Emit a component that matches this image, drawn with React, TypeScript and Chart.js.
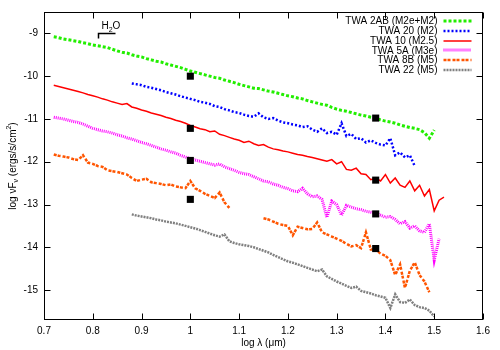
import React, { useEffect, useRef } from "react";
import { Chart, registerables } from "chart.js";

Chart.register(...registerables);

const FONT = '"Liberation Sans", Arial, Helvetica, sans-serif';

// shared wavelength grid (log lambda, micron)
const LOG_LAMBDA = [
  0.72, 0.73, 0.74, 0.75, 0.76, 0.77, 0.78, 0.79, 0.8, 0.81,
  0.82, 0.83, 0.84, 0.85, 0.86, 0.87, 0.88, 0.89, 0.9, 0.91,
  0.92, 0.93, 0.94, 0.95, 0.96, 0.97, 0.98, 0.99, 1.0, 1.01,
  1.02, 1.03, 1.04, 1.05, 1.06, 1.07, 1.08, 1.09, 1.1, 1.11,
  1.12, 1.13, 1.14, 1.15, 1.16, 1.17, 1.18, 1.19, 1.2, 1.21,
  1.22, 1.23, 1.24, 1.25, 1.26, 1.27, 1.28, 1.29, 1.3, 1.31,
  1.32, 1.33, 1.34, 1.35, 1.36, 1.37, 1.38, 1.39, 1.4, 1.41,
  1.42, 1.43, 1.44, 1.45, 1.46, 1.47, 1.48, 1.49, 1.5, 1.51,
  1.52,
];

const TWA2AB_START = 0.72;
const TWA2AB = [
  -9.08, -9.1, -9.13, -9.15, -9.17, -9.19, -9.22, -9.24, -9.27, -9.29,
  -9.31, -9.33, -9.37, -9.41, -9.44, -9.46, -9.5, -9.53, -9.55, -9.59,
  -9.62, -9.65, -9.67, -9.71, -9.74, -9.77, -9.8, -9.84, -9.88, -9.91,
  -9.94, -9.97, -10.0, -10.03, -10.05, -10.09, -10.12, -10.15, -10.19, -10.22,
  -10.25, -10.28, -10.29, -10.32, -10.35, -10.37, -10.4, -10.43, -10.46, -10.48,
  -10.51, -10.53, -10.57, -10.6, -10.63, -10.66, -10.68, -10.73, -10.77, -10.8,
  -10.82, -10.85, -10.88, -10.91, -10.93, -10.96, -10.98, -11.02, -11.05, -11.07,
  -11.1, -11.14, -11.17, -11.2, -11.22, -11.25, -11.32, -11.45, -11.26,
];

const TWA20_START = 0.88;
const TWA20 = [
  -10.17, -10.19, -10.21, -10.25, -10.27, -10.3, -10.33, -10.37, -10.4, -10.43,
  -10.47, -10.5, -10.53, -10.56, -10.6, -10.62, -10.65, -10.7, -10.72, -10.77,
  -10.8, -10.84, -10.86, -10.9, -10.93, -10.95, -10.87, -10.96, -11.0, -10.98,
  -11.04, -11.08, -11.1, -11.13, -11.15, -11.19, -11.17, -11.25, -11.3, -11.22,
  -11.33, -11.3, -11.37, -11.1, -11.4, -11.35, -11.47, -11.45, -11.55, -11.5,
  -11.56, -11.6, -11.62, -11.45, -11.85, -11.78, -11.9, -11.85, -12.1,
];

const TWA10_START = 0.72;
const TWA10 = [
  -10.21, -10.24, -10.27, -10.3, -10.33, -10.36, -10.39, -10.43, -10.46, -10.49,
  -10.53, -10.56, -10.6, -10.63, -10.66, -10.64, -10.72, -10.75, -10.79, -10.82,
  -10.86, -10.89, -10.92, -10.96, -10.99, -11.03, -11.06, -11.1, -11.15, -11.19,
  -11.23, -11.25, -11.3, -11.28, -11.36, -11.39, -11.43, -11.47, -11.5, -11.55,
  -11.52, -11.58, -11.62, -11.6, -11.66, -11.7, -11.72, -11.75, -11.77, -11.8,
  -11.83, -11.85, -11.88, -11.9, -11.93, -11.96, -11.99, -11.95, -12.05, -12.0,
  -12.18, -12.2, -12.15, -12.28, -12.3, -12.42, -12.38, -12.45, -12.3, -12.5,
  -12.38, -12.55, -12.6, -12.45, -12.68, -12.55, -12.8, -12.65, -13.15, -12.9,
  -12.83,
];

const TWA5A_START = 0.72;
const TWA5A = [
  -10.96, -10.98, -11.0, -11.03, -11.06, -11.08, -11.12, -11.17, -11.22, -11.25,
  -11.28, -11.3, -11.33, -11.37, -11.4, -11.44, -11.47, -11.51, -11.55, -11.58,
  -11.62, -11.66, -11.7, -11.73, -11.77, -11.8, -11.85, -11.89, -11.93, -11.96,
  -11.99, -12.02, -12.05, -12.08, -12.05, -12.12, -12.16, -12.2, -12.25, -12.28,
  -12.3, -12.35, -12.4, -12.45, -12.47, -12.52, -12.55, -12.6, -12.63, -12.68,
  -12.7, -12.62, -12.75, -12.82, -12.8, -12.88, -13.3, -12.92, -13.0, -13.25,
  -13.02, -13.06, -13.1, -13.12, -13.16, -13.18, -13.2, -13.25, -13.3, -13.28,
  -13.35, -13.45, -13.4, -13.55, -13.5, -13.62, -13.65, -13.45, -14.3, -13.8,
];

const TWA8B_A_START = 0.72;
const TWA8B_A = [
  -11.83, -11.86, -11.88, -11.9, -11.94, -11.96, -11.85, -12.02, -12.05, -12.1,
  -12.12, -12.2, -12.22, -12.24, -12.27, -12.3, -12.38, -12.45, -12.42, -12.4,
  -12.48, -12.5, -12.52, -12.55, -12.53, -12.58, -12.6, -12.62, -12.45, -12.62,
  -12.68, -12.75, -12.8, -12.85, -12.72, -12.95, -13.08,
];

const TWA8B_B_START = 1.15;
const TWA8B_B = [
  -13.32, -13.35, -13.4, -13.45, -13.48, -13.5, -13.72, -13.52, -13.55, -13.58,
  -13.57, -13.42, -13.65, -13.7, -13.75, -13.8, -13.85, -13.92, -13.98, -13.95,
  -14.02, -13.65, -14.05, -14.05, -14.15, -14.2, -14.3, -14.65, -14.4, -14.95,
  -14.55, -14.35, -14.65, -14.8, -15.05,
];

const TWA22_START = 0.88;
const TWA22 = [
  -13.23, -13.26, -13.28, -13.3, -13.32, -13.35, -13.37, -13.4, -13.42, -13.44,
  -13.47, -13.5, -13.53, -13.56, -13.6, -13.64, -13.68, -13.72, -13.75, -13.7,
  -13.86, -13.9, -13.93, -13.95, -13.97, -14.0, -14.04, -14.08, -14.12, -14.18,
  -14.23, -14.28, -14.33, -14.36, -14.4, -14.44, -14.48, -14.52, -14.56, -14.52,
  -14.68, -14.74, -14.8, -14.85, -14.9, -14.95, -14.92, -15.02, -15.05, -15.08,
  -15.12, -15.15, -15.18, -15.42, -15.1, -15.28, -15.3, -15.22, -15.35, -15.4,
  -15.42, -15.48, -15.62,
];

// photometric points
const PHOT_X = [1.0, 1.0, 1.0, 1.0, 1.38, 1.38, 1.38, 1.38];
const PHOT_Y = [-10.0, -11.22, -11.97, -12.88, -10.98, -12.43, -13.22, -14.03];

const LEGEND_LABELS = [
  "TWA 2AB (M2e+M2)",
  "TWA 20 (M2)",
  "TWA 10 (M2.5)",
  "TWA 5A (M3e)",
  "TWA 8B (M5)",
  "TWA 22 (M5)",
];

const X_TICKS = [0.7, 0.8, 0.9, 1.0, 1.1, 1.2, 1.3, 1.4, 1.5, 1.6];
const X_TICK_LABELS = ["0.7", "0.8", "0.9", "1", "1.1", "1.2", "1.3", "1.4", "1.5", "1.6"];
const Y_TICKS = [-15, -14, -13, -12, -11, -10, -9];
const Y_TICK_LABELS = ["-15", "-14", "-13", "-12", "-11", "-10", "-9"];

const H2O_BAND = [0.81, 0.845];
const H2O_LEVEL = -9.0;

const STYLES = [
  { color: "#22ee00", width: 3, dash: [3, 2] },
  { color: "#0000ff", width: 2.5, dash: [2, 2] },
  { color: "#ff0000", width: 1.5, dash: [] as number[] },
  { color: "#ff00ff", width: 3, dash: [1, 1] },
  { color: "#ff5500", width: 2.5, dash: [3, 1, 3, 2] },
  { color: "#808080", width: 2.5, dash: [2, 1] },
];

function pts(start: number, vals: number[]) {
  const i0 = LOG_LAMBDA.findIndex((v) => Math.abs(v - start) < 1e-6);
  return vals.map((y, i) => ({ x: LOG_LAMBDA[i0 + i], y }));
}

function lineDs(data: { x: number; y: number }[], s: number) {
  const st = STYLES[s];
  return {
    data,
    showLine: true,
    borderColor: st.color,
    backgroundColor: st.color,
    borderWidth: st.width,
    borderDash: st.dash,
    pointRadius: 0,
    tension: 0,
    fill: false,
  };
}

const decor = {
  id: "decor",
  afterDatasetsDraw(chart: any) {
    const { ctx, chartArea, scales } = chart;
    const { left, right, top, bottom } = chartArea;
    const xs = scales.x;
    const ys = scales.y;
    ctx.save();
    ctx.setLineDash([]);
    ctx.strokeStyle = "#000";
    ctx.lineWidth = 1;
    const L = Math.round(left) + 0.5;
    const R = Math.round(right) - 0.5;
    const T = Math.round(top) + 0.5;
    const B = Math.round(bottom) - 0.5;
    ctx.strokeRect(L, T, R - L, B - T);
    const tl = 6;
    ctx.beginPath();
    X_TICKS.forEach((v) => {
      const px = Math.round(xs.getPixelForValue(v)) + 0.5;
      ctx.moveTo(px, B);
      ctx.lineTo(px, B - tl);
      ctx.moveTo(px, T);
      ctx.lineTo(px, T + tl);
    });
    Y_TICKS.forEach((v) => {
      const py = Math.round(ys.getPixelForValue(v)) + 0.5;
      ctx.moveTo(L, py);
      ctx.lineTo(L + tl, py);
      ctx.moveTo(R, py);
      ctx.lineTo(R - tl, py);
    });
    ctx.stroke();

    // legend
    ctx.font = `10px ${FONT}`;
    ctx.fillStyle = "#000";
    ctx.textAlign = "right";
    ctx.textBaseline = "middle";
    const textRight = R - 45;
    LEGEND_LABELS.forEach((lab, i) => {
      const y = T + 8.5 + i * 9.8;
      ctx.fillText(lab, textRight, y + 0.5);
      const st = STYLES[i];
      ctx.save();
      ctx.strokeStyle = st.color;
      ctx.lineWidth = st.width;
      ctx.setLineDash(st.dash);
      ctx.beginPath();
      ctx.moveTo(textRight + 6, Math.round(y));
      ctx.lineTo(textRight + 34, Math.round(y));
      ctx.stroke();
      ctx.restore();
    });

    // H2O band annotation
    const bx0 = Math.round(xs.getPixelForValue(H2O_BAND[0])) + 0.5;
    const bx1 = Math.round(xs.getPixelForValue(H2O_BAND[1])) + 0.5;
    const by = Math.round(ys.getPixelForValue(H2O_LEVEL)) + 0.5;
    ctx.strokeStyle = "#000";
    ctx.lineWidth = 1.5;
    ctx.beginPath();
    ctx.moveTo(bx0, by + 5);
    ctx.lineTo(bx0, by);
    ctx.lineTo(bx1, by);
    ctx.stroke();
    ctx.textAlign = "left";
    ctx.textBaseline = "alphabetic";
    const tx = bx0 + 3;
    const tb = by - 5;
    ctx.font = `10px ${FONT}`;
    ctx.fillText("H", tx, tb);
    const wH = ctx.measureText("H").width;
    ctx.font = `7px ${FONT}`;
    ctx.fillText("2", tx + wH, tb + 3);
    const w2 = ctx.measureText("2").width;
    ctx.font = `10px ${FONT}`;
    ctx.fillText("O", tx + wH + w2, tb);

    // x title
    ctx.textAlign = "center";
    ctx.textBaseline = "middle";
    ctx.fillText("log \u03bb (\u03bcm)", (left + right) / 2, 343);

    // y title (rotated, with sub/superscripts)
    const segs = [
      { t: "log \u03bdF", size: 10, dy: 0 },
      { t: "\u03bd", size: 7, dy: 3 },
      { t: " (ergs/s/cm", size: 10, dy: 0 },
      { t: "2", size: 7, dy: -4 },
      { t: ")", size: 10, dy: 0 },
    ];
    let total = 0;
    segs.forEach((s) => {
      ctx.font = `${s.size}px ${FONT}`;
      total += ctx.measureText(s.t).width;
    });
    ctx.save();
    ctx.translate(13, (top + bottom) / 2);
    ctx.rotate(-Math.PI / 2);
    ctx.textAlign = "left";
    ctx.textBaseline = "middle";
    let cx = -total / 2;
    segs.forEach((s) => {
      ctx.font = `${s.size}px ${FONT}`;
      ctx.fillText(s.t, cx, s.dy);
      cx += ctx.measureText(s.t).width;
    });
    ctx.restore();
    ctx.restore();
  },
};

export default function App() {
  const ref = useRef<HTMLCanvasElement>(null);
  useEffect(() => {
    const phot = PHOT_X.map((x, i) => ({ x, y: PHOT_Y[i] }));
    const chart = new Chart(ref.current!, {
      type: "scatter",
      data: {
        datasets: [
          {
            data: phot,
            showLine: false,
            pointStyle: "rect",
            pointRadius: 5,
            pointBorderWidth: 0,
            pointBackgroundColor: "#000",
            pointBorderColor: "#000",
          } as any,
          lineDs(pts(TWA2AB_START, TWA2AB), 0),
          lineDs(pts(TWA20_START, TWA20), 1),
          lineDs(pts(TWA10_START, TWA10), 2),
          lineDs(pts(TWA5A_START, TWA5A), 3),
          lineDs(pts(TWA8B_A_START, TWA8B_A), 4),
          lineDs(pts(TWA8B_B_START, TWA8B_B), 4),
          lineDs(pts(TWA22_START, TWA22), 5),
        ],
      },
      options: {
        animation: false,
        responsive: true,
        maintainAspectRatio: false,
        layout: { padding: { top: 12, right: 17, left: 0, bottom: 0 } },
        plugins: { legend: { display: false }, tooltip: { enabled: false } },
        scales: {
          x: {
            type: "linear",
            min: 0.7,
            max: 1.6,
            grid: { display: false, drawTicks: false },
            border: { display: false },
            afterBuildTicks: (s: any) => {
              s.ticks = X_TICKS.map((v) => ({ value: v }));
            },
            afterFit: (s: any) => {
              s.height = 30;
            },
            ticks: {
              autoSkip: false,
              maxRotation: 0,
              padding: 5,
              color: "#000",
              font: { family: FONT, size: 10 },
              callback: (_v: any, i: number) => X_TICK_LABELS[i],
            },
          },
          y: {
            type: "linear",
            min: -15.7,
            max: -8.5,
            grid: { display: false, drawTicks: false },
            border: { display: false },
            afterBuildTicks: (s: any) => {
              s.ticks = Y_TICKS.map((v) => ({ value: v }));
            },
            afterFit: (s: any) => {
              s.width = 44;
            },
            ticks: {
              autoSkip: false,
              padding: 6,
              color: "#000",
              font: { family: FONT, size: 10 },
              callback: (_v: any, i: number) => Y_TICK_LABELS[i],
            },
          },
        },
      },
      plugins: [decor],
    });
    return () => chart.destroy();
  }, []);
  return (
    <div style={{ position: "absolute", left: 0, top: 0, width: 500, height: 350 }}>
      <canvas ref={ref} />
    </div>
  );
}
